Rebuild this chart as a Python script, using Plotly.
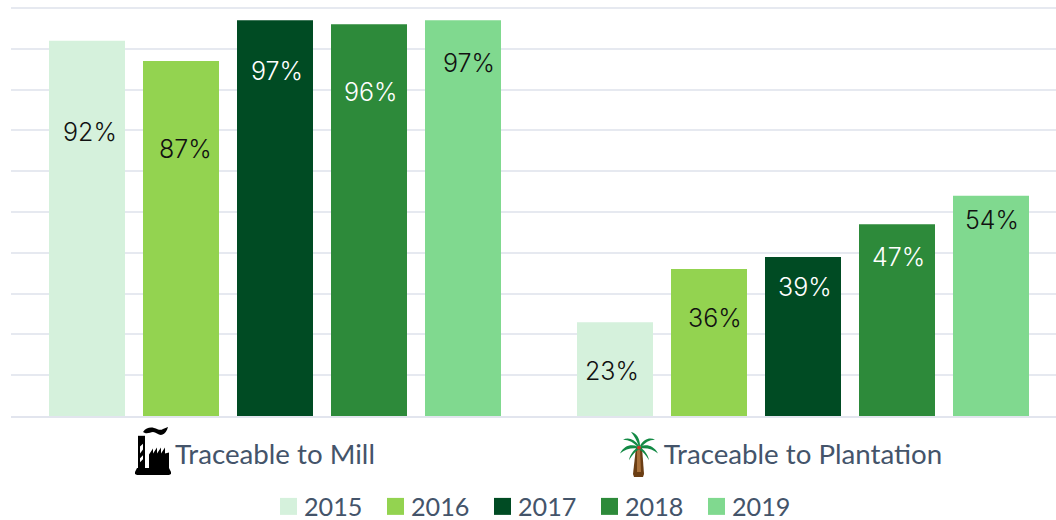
import plotly.graph_objects as go
from urllib.parse import quote

categories = ["Traceable to Mill", "Traceable to Plantation"]
years = ["2015", "2016", "2017", "2018", "2019"]
v2015 = [92, 23]
v2016 = [87, 36]
v2017 = [97, 39]
v2018 = [96, 47]
v2019 = [97, 54]
series = [v2015, v2016, v2017, v2018, v2019]

colors = ["#D5F1DC", "#93D350", "#004B23", "#2D8A3A", "#80D98F"]
label_colors = [["#111111", "#111111"], ["#111111", "#111111"], ["#FFFFFF", "#FFFFFF"],
                ["#FFFFFF", "#FFFFFF"], ["#111111", "#111111"]]
# hand-placed value labels: centre height (axis units) and x nudge (px) for each year/group
label_y = [[69.5, 11], [65.5, 24], [84.5, 31.5], [79.5, 39], [86.5, 48]]
label_dx = [[3, -3], [4, 6], [2, 2], [2, 1], [6, 1]]

W, H = 1056, 520
L, R, T, B = 11, 0, 5.5, 104
GROUP = 528
SLOT = 94
pw, ph = W - L - R, H - T - B
Y_TOP = 100 * ph / (ph - 2)   # 2px of headroom keeps the 100 gridline visible

def px(x):
    return (x - L) / pw

def py(y):
    return (H - B - y) / ph

fig = go.Figure()
for year, vals, col in zip(years, series, colors):
    fig.add_bar(name=year, x=[0, 1], y=vals, marker=dict(color=col, line_width=0),
                showlegend=False, hoverinfo="x+y")

annotations = []
for i, vals in enumerate(series):
    for g, v in enumerate(vals):
        annotations.append(dict(
            x=g + (i - 2) * SLOT / GROUP, y=label_y[i][g], xref="x", yref="y",
            text=f"{v}%", showarrow=False, xshift=label_dx[i][g], xanchor="center", yanchor="middle",
            font=dict(family="Inter", size=25, weight=300, color=label_colors[i][g])))

shapes = []
LEG_X0, LEG_PITCH, LEG_Y0, LEG_SIZE, LEG_GAP = 280, 107, 498, 17, 5
for i, (year, col) in enumerate(zip(years, colors)):
    x0 = LEG_X0 + i * LEG_PITCH
    shapes.append(dict(type="rect", xref="paper", yref="paper", x0=px(x0), x1=px(x0 + LEG_SIZE),
                       y0=py(LEG_Y0 + LEG_SIZE), y1=py(LEG_Y0), fillcolor=col, line_width=0, layer="above"))
    annotations.append(dict(x=px(x0 + LEG_SIZE + LEG_GAP), y=py(506.5), xref="paper", yref="paper",
                            text=year, showarrow=False, xanchor="left", yanchor="middle",
                            font=dict(family="Lato", size=25.2, color="#44546A")))

factory_svg = """<svg xmlns='http://www.w3.org/2000/svg' viewBox='0 0 36 50'>
<path fill='#000' d='M8 5c3-4 7-5 11-4s6 3 9 1l5-2c-1 4-3 7-6 8s-6-3-9-3-6 3-10 0z'/>
<path fill='#000' d='M3 9h7v33H3z'/><path fill='#fff' d='M5 20l3-3v6l-3 4zM5 32l3-3v4l-3 3z'/>
<path fill='#000' d='M14 28l4-6v5l4-6v6l4-6v6l4-6v6l4-1v20H14z'/>
<path fill='#000' d='M2 42h32l2 4v2l-2 1H2l-2-1v-2z'/></svg>"""
palm_svg = """<svg xmlns='http://www.w3.org/2000/svg' viewBox='0 0 38 48'>
<path fill='#6B3E14' d='M16 17h6l2 27-1 3h-9l-1-3z'/><path fill='#A8703A' d='M17 18h3l1 24h-4z'/>
<g fill='#138A45'><path d='M19 16C17 10 14 5 11 1c5 1 9 6 9 14z'/>
<path d='M19 15C14 8 8 6 3 9c6 0 11 3 15 8z'/><path d='M18 16C11 13 4 15 0 23c5-4 11-6 18-5z'/>
<path d='M18 17c-4 2-8 7-9 13 3-5 6-9 10-11z'/><path d='M20 15c4-7 10-9 15-6-6 0-10 3-14 8z'/>
<path d='M20 16c6-3 14-1 18 7-5-4-11-6-18-5z'/><path d='M20 17c4 2 8 7 9 13-3-5-6-9-10-11z'/></g>
<circle cx='19' cy='17' r='2' fill='#C8352A'/></svg>"""

def uri(svg):
    return "data:image/svg+xml," + quote(svg)

images = [
    dict(source=uri(factory_svg), xref="paper", yref="paper", x=px(135), y=py(427), sizex=36 / pw, sizey=49 / ph,
         xanchor="left", yanchor="top", sizing="stretch", layer="above"),
    dict(source=uri(palm_svg), xref="paper", yref="paper", x=px(620), y=py(431), sizex=38 / pw, sizey=47 / ph,
         xanchor="left", yanchor="top", sizing="stretch", layer="above"),
]

fig.update_layout(
    width=W, height=H, margin=dict(l=L, r=R, t=T, b=B, autoexpand=False),
    paper_bgcolor="white", plot_bgcolor="white", barmode="group",
    bargap=58 / GROUP, bargroupgap=18 / SLOT, showlegend=False,
    annotations=annotations, shapes=shapes, images=images,
    xaxis=dict(tickmode="array", tickvals=[0, 1], ticktext=categories, range=[-0.5, 1.5 - 11 / GROUP],
               showgrid=False, zeroline=False, showline=True, linecolor="#E2E5EE", linewidth=2,
               ticks="outside", ticklen=13, tickcolor="rgba(0,0,0,0)",
               tickfont=dict(family="Lato", size=27.7, color="#44546A")),
    yaxis=dict(range=[0, Y_TOP], tickmode="array", tickvals=list(range(0, 101, 10)),
               showticklabels=False, showgrid=True, gridcolor="#E6E9F0", gridwidth=2,
               zeroline=False, showline=False, ticks=""),
)
fig.write_html("out.html", config={"displayModeBar": False},
               post_script="document.body.style.margin='0';document.documentElement.style.overflow='hidden';")
